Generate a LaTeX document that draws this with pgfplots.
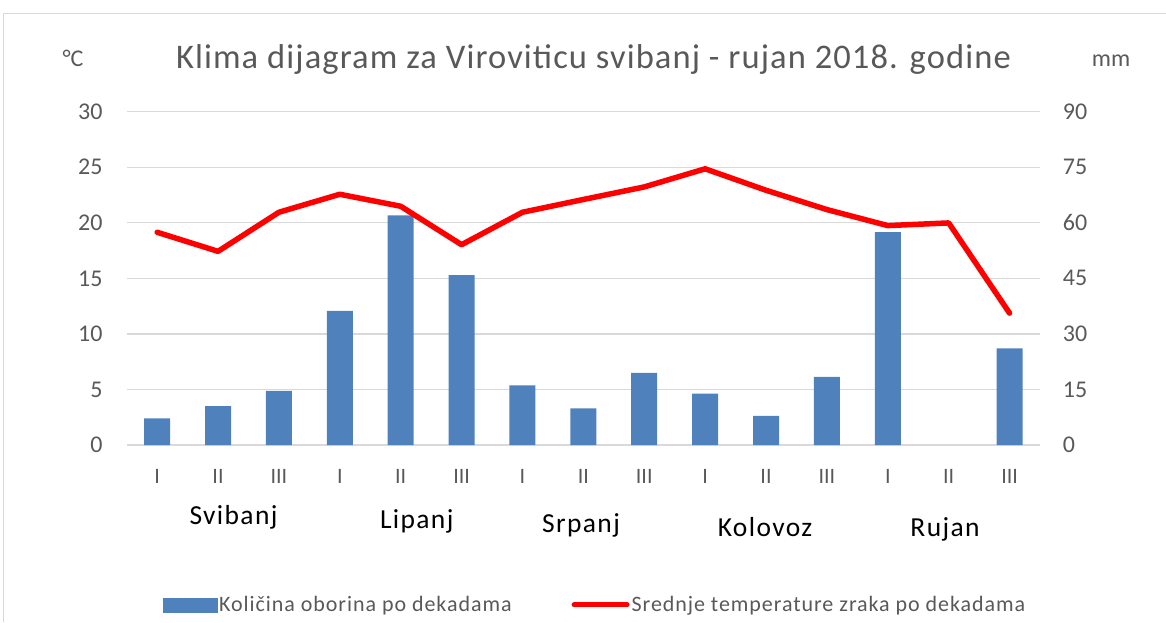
\documentclass[border=0pt]{standalone}
\usepackage{pgfplots}
\pgfplotsset{compat=1.18}
\usepackage{fontspec}
\setmainfont{Carlito}
\newfontfamily\titlefont[LetterSpace=3.2]{Carlito}
\newfontfamily\legfont[LetterSpace=4.3]{Carlito}
\newfontfamily\monthfont[LetterSpace=5]{Carlito}
\definecolor{barblue}{RGB}{79,129,189}
\definecolor{textgray}{RGB}{89,89,89}
\definecolor{gridgray}{RGB}{217,217,217}
\definecolor{bordergray}{RGB}{217,217,217}
\begin{document}
\begin{tikzpicture}
\useasboundingbox (0pt,0pt) rectangle (1166pt,-622pt);
\draw[bordergray, line width=1pt] (3.3pt,-622pt) -- (3.3pt,-13.3pt) -- (1166pt,-13.3pt);
% Precipitation bars (right axis, mm)
\begin{axis}[
  scale only axis, width=913.3pt, height=333.3pt,
  at={(126.7pt,-445pt)}, anchor=south west,
  xmin=0.5, xmax=15.5, ymin=0, ymax=90,
  axis line style={draw=none},
  major tick length=0pt,
  ytick={0,15,30,45,60,75,90},
  yticklabel pos=right,
  ymajorgrids, grid style={gridgray, line width=1.2pt},
  yticklabel style={anchor=west, inner sep=0pt, xshift=22.7pt, text=textgray, font=\fontsize{24}{28}\selectfont},
  /pgf/number format/assume math mode=true,
  xtick={1,...,15},
  xticklabels={I,II,III,I,II,III,I,II,III,I,II,III,I,II,III},
  xticklabel style={anchor=center, inner sep=0pt, yshift=-31.7pt, text=textgray, font=\fontsize{22}{26}\selectfont},
  clip=false,
]
\addplot[ybar, bar width=26pt, fill=barblue, draw=none] coordinates {
  (1,7.2) (2,10.5) (3,14.6) (4,36.2) (5,62.0) (6,45.9) (7,16.1) (8,9.9)
  (9,19.5) (10,13.9) (11,7.9) (12,18.4) (13,57.5) (15,26.1)
};
\end{axis}
% Temperature line (left axis, deg C)
\begin{axis}[
  scale only axis, width=913.3pt, height=333.3pt,
  at={(126.7pt,-445pt)}, anchor=south west,
  xmin=0.5, xmax=15.5, ymin=0, ymax=30,
  axis line style={draw=none},
  major tick length=0pt,
  ytick={0,5,10,15,20,25,30},
  yticklabel style={anchor=east, inner sep=0pt, xshift=-24pt, text=textgray, font=\fontsize{24}{28}\selectfont},
  /pgf/number format/assume math mode=true,
  xtick=\empty,
  clip=false,
  legend columns=2,
  legend style={at={(0.04,-0.48)}, anchor=west, draw=none, fill=none, inner sep=0pt,
    font=\legfont\fontsize{22}{26}\selectfont, text=textgray,
    nodes={inner sep=2pt},
    /tikz/every even column/.append style={column sep=58pt}},
]
\addlegendimage{legend image code/.code={\fill[barblue] (0pt,-7.2pt) rectangle (53.4pt,7.2pt);}}
\addlegendentry{Količina oborina po dekadama}
\addplot[red, line width=5.5pt, line join=round, line cap=round,
  legend image code/.code={\draw[red, line width=5pt, line cap=round] (0pt,0pt) -- (53pt,0pt);}]
  coordinates {
  (1,19.15) (2,17.43) (3,20.95) (4,22.57) (5,21.49) (6,18.03) (7,20.95) (8,22.1)
  (9,23.23) (10,24.86) (11,22.93) (12,21.19) (13,19.75) (14,19.99) (15,11.87)
};
\addlegendentry{Srednje temperature zraka po dekadama}
\end{axis}
\node[anchor=base, text=textgray, font=\titlefont\fontsize{34.5}{40}\selectfont] at (593.5pt,-68.3pt) {Klima dijagram za Viroviticu svibanj - rujan 2018. godine};
\node[anchor=base, text=textgray, font=\fontsize{24}{28}\selectfont] at (73pt,-66.7pt) {°C};
\node[anchor=base, text=textgray, font=\fontsize{24}{28}\selectfont] at (1111pt,-66.7pt) {mm};
\begin{scope}[every node/.style={anchor=base, text=black, font=\monthfont\fontsize{27.5}{32}\selectfont}]
\node at (233.5pt,-524pt) {Svibanj};
\node at (416.7pt,-528.3pt) {Lipanj};
\node at (581pt,-532.3pt) {Srpanj};
\node at (765pt,-536.7pt) {Kolovoz};
\node at (945pt,-536.7pt) {Rujan};
\end{scope}
\end{tikzpicture}
\end{document}
